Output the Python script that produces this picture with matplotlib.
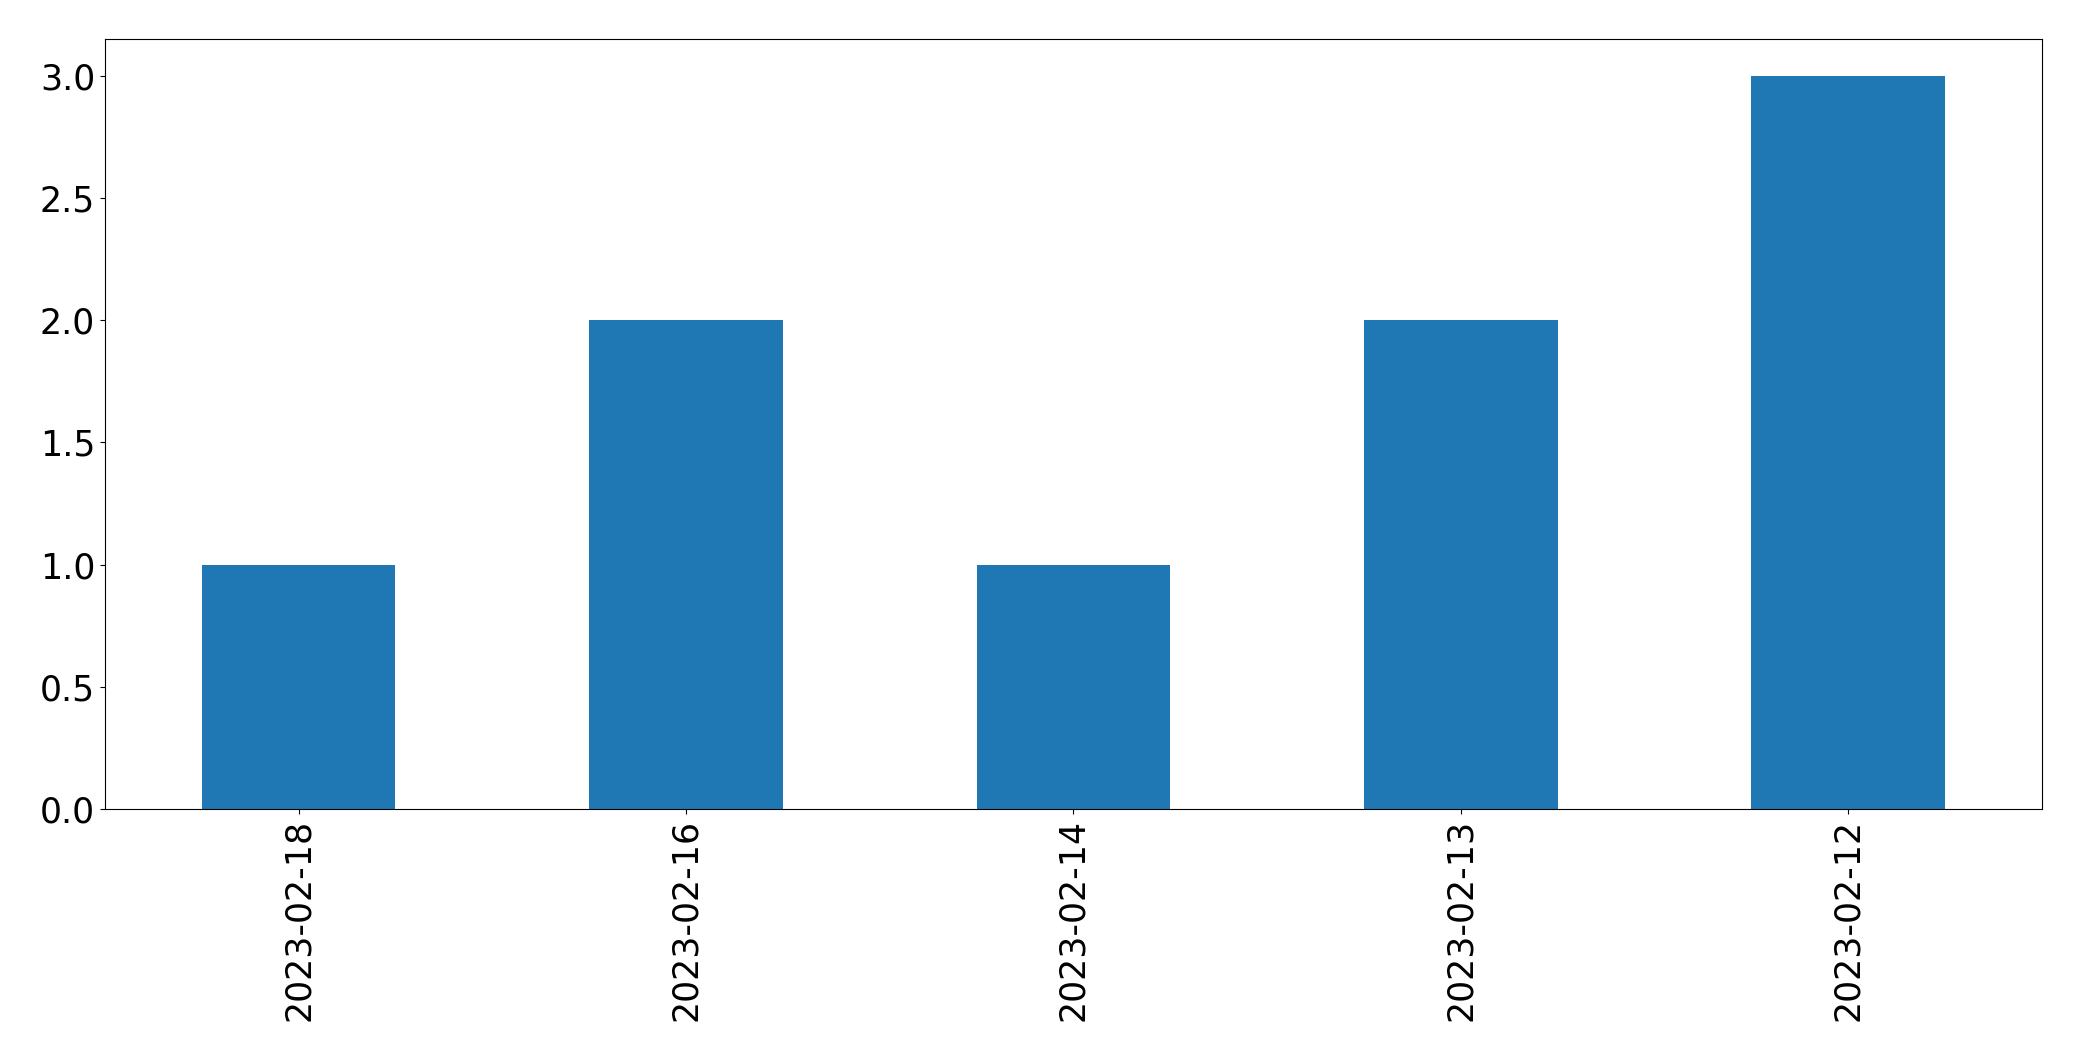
import matplotlib
matplotlib.use('Agg')
import pandas as pd
import matplotlib.pyplot as plt

# %% data
dates = ['2023-02-18', '2023-02-16', '2023-02-14', '2023-02-13', '2023-02-12']
counts = [1, 2, 1, 2, 3]

s = pd.Series(counts, index=dates)

# %% plot
fig, ax = plt.subplots(figsize=(20.82, 10.61), dpi=100)
s.plot(kind='bar', ax=ax, color='#1f77b4', fontsize=25)
ax.set_ylim(0, 3.15)
plt.subplots_adjust(left=0.0504, right=0.9808, top=0.9632, bottom=0.2375)
plt.savefig('out.png', dpi=100)
